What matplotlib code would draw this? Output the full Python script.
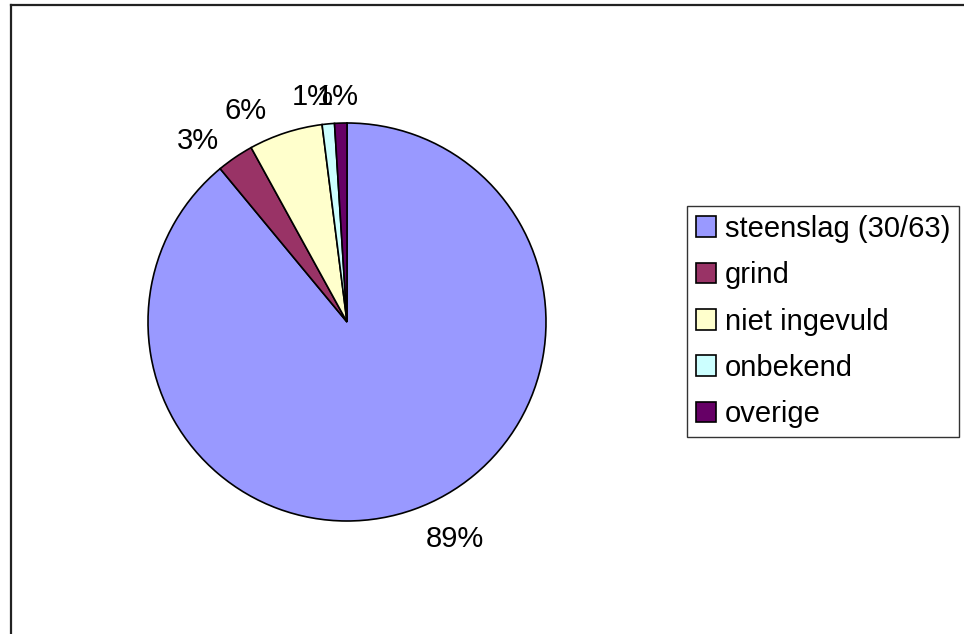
import matplotlib.pyplot as plt
from matplotlib.lines import Line2D

plt.rcParams['font.family'] = ['Liberation Sans', 'DejaVu Sans']

# materiaal verdeling
labels = ['steenslag (30/63)', 'grind', 'niet ingevuld', 'onbekend', 'overige']
values = [89, 3, 6, 1, 1]
colors = ['#9999FF', '#993366', '#FFFFCC', '#CCFFFF', '#660066']

# plaats van de percentages (in eenheden van de straal, t.o.v. het midden)
label_xy = [(0.54, -1.09), (-0.75, 0.91), (-0.51, 1.06), (-0.17, 1.13), (-0.045, 1.13)]

W, H = 964, 634
fig = plt.figure(figsize=(W / 100, H / 100), dpi=100)

# kader links en boven
fig.add_artist(Line2D([11 / W, 11 / W], [0, 1 - 5 / H], color='#222222', lw=1.6))
fig.add_artist(Line2D([11 / W, 1], [1 - 5 / H, 1 - 5 / H], color='#222222', lw=1.6))

cx, cy, r = 347, 322, 199
ax = fig.add_axes([(cx - r) / W, (H - cy - r) / H, 2 * r / W, 2 * r / H])
wedges, texts, autotexts = ax.pie(
    values, colors=colors, startangle=90, counterclock=False,
    autopct='%1.0f%%', pctdistance=1.2,
    wedgeprops=dict(edgecolor='black', linewidth=1.2),
    textprops=dict(fontsize=21, color='black'))
ax.set_xlim(-1, 1)
ax.set_ylim(-1, 1)
for t, xy in zip(autotexts, label_xy):
    t.set_position(xy)
    t.set_clip_on(False)

leg = fig.legend(wedges, labels, loc='upper left',
                 bbox_to_anchor=(687 / W, 1 - 206 / H), bbox_transform=fig.transFigure,
                 fontsize=21, frameon=True, fancybox=False, edgecolor='black',
                 handlelength=0.7, handleheight=0.7, handletextpad=0.3,
                 labelspacing=0.63, borderpad=0.3, borderaxespad=0)
leg.get_frame().set_linewidth(1.0)

fig.savefig('out.png', dpi=100, facecolor='white')
